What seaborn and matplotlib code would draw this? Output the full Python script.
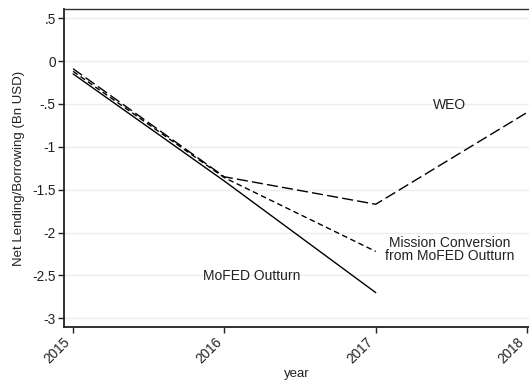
import pandas as pd
import seaborn as sns
import matplotlib.pyplot as plt

years = [2015, 2016, 2017, 2018]
mofed = [-0.15, -1.40, -2.70]
mission = [-0.12, -1.36, -2.22]
weo = [-0.09, -1.35, -1.67, -0.60]
yticks = [0.5, 0, -0.5, -1, -1.5, -2, -2.5, -3]
ytick_labels = [".5", "0", "-.5", "-1", "-1.5", "-2", "-2.5", "-3"]

df = pd.concat([
    pd.DataFrame({"year": years[:3], "value": mofed, "series": "MoFED Outturn"}),
    pd.DataFrame({"year": years[:3], "value": mission, "series": "Mission"}),
    pd.DataFrame({"year": years, "value": weo, "series": "WEO"}),
])

sns.set_style("white")
plt.rcParams["font.family"] = ["Liberation Sans", "DejaVu Sans"]

fig = plt.figure(figsize=(5.29, 3.81), dpi=100)
ax = fig.add_axes([0.121, 0.142, 0.879, 0.834])

sns.lineplot(data=df, x="year", y="value", style="series", color="black",
             dashes={"MoFED Outturn": "", "Mission": (4, 2.5), "WEO": (8, 3)},
             linewidth=1.0, legend=False, ax=ax)

ax.set_xlim(2014.94, 2018.013)
ax.set_ylim(-3.1, 0.605)
ax.set_yticks(yticks)
ax.set_yticklabels(ytick_labels, fontsize=9.8, color="#222222")
ax.set_xticks(years)
ax.set_xticklabels([str(y) for y in years], rotation=45, ha="right", va="bottom",
                   rotation_mode="anchor", fontsize=9.8, color="#222222")
ax.grid(axis="y", color="#e6eff2", linewidth=1)
ax.set_axisbelow(True)
ax.tick_params(axis="both", direction="out", length=4, width=1, color="#222222",
               left=True, bottom=True, pad=2)
ax.tick_params(axis="x", pad=9)

for s in ["left", "bottom"]:
    ax.spines[s].set_linewidth(1.3)
    ax.spines[s].set_color("#222222")
ax.spines["top"].set_linewidth(1.0)
ax.spines["top"].set_color("#333333")
ax.spines["right"].set_visible(False)

ax.set_xlabel("year", fontsize=9.5, labelpad=1, color="#222222")
ax.set_ylabel("Net Lending/Borrowing (Bn USD)", fontsize=9.5, labelpad=5,
              color="#222222")

ax.text(2017.49, -0.51, "WEO", ha="center", va="center", fontsize=10,
        color="#222222")
ax.text(2017.49, -2.2, "Mission Conversion\nfrom MoFED Outturn", ha="center",
        va="center", fontsize=10, linespacing=0.95, color="#222222")
ax.text(2016.18, -2.51, "MoFED Outturn", ha="center", va="center", fontsize=10,
        color="#222222")

fig.savefig("out.png", dpi=100)
